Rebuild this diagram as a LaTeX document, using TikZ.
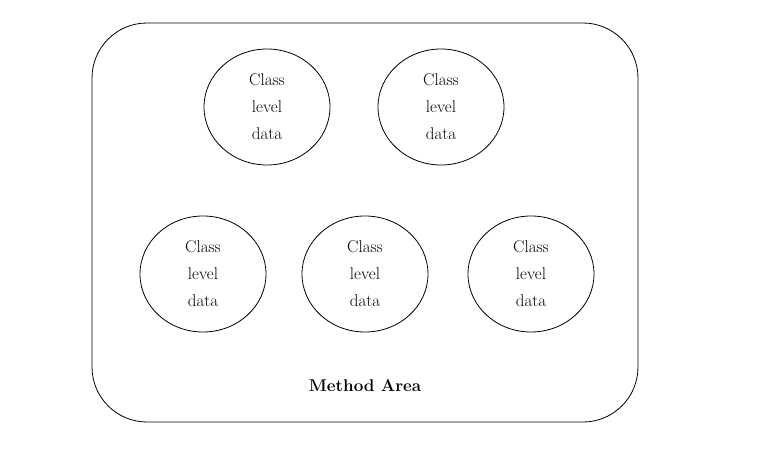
\documentclass[tikz,border=0pt]{standalone}
\usepackage{tikz}
\usetikzlibrary{shapes}
\tikzstyle{every data node}=[draw,ellipse,minimum width=126pt,minimum height=116pt,inner sep=0pt,align=center,font=\fontsize{17}{27}\selectfont]

\begin{document}
\begin{tikzpicture}[x=1pt,y=-1pt,line width=0.8pt]
\useasboundingbox (0,0) rectangle (761,450);

\node[draw,rounded corners=55pt,minimum width=546pt,minimum height=399pt] (area) at (365,222.5) {};
\node[every data node] (d1) at (267,107) {Class\\level\\data};
\node[every data node] (d2) at (441,107) {Class\\level\\data};
\node[every data node] (d3) at (203,274) {Class\\level\\data};
\node[every data node] (d4) at (365,274) {Class\\level\\data};
\node[every data node] (d5) at (531,274) {Class\\level\\data};
\node[font=\fontsize{17}{20}\selectfont\bfseries] (title) at (365,386) {Method Area};
\end{tikzpicture}
\end{document}
